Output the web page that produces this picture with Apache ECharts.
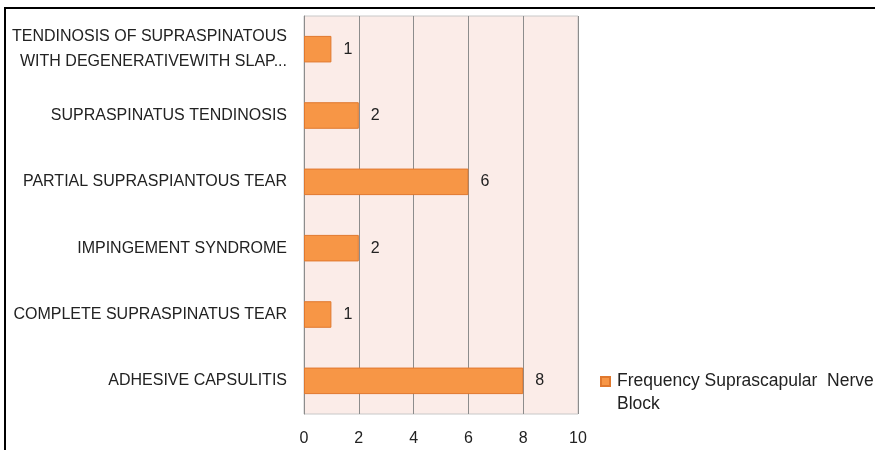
<!DOCTYPE html>
<html>
<head>
<meta charset="utf-8">
<script src="https://cdn.jsdelivr.net/npm/echarts@6/dist/echarts.min.js"></script>
<style>
  html, body { margin: 0; padding: 0; background: #fff; }
  #frame { position: absolute; left: 4px; top: 7px; width: 880px; height: 450px;
           border-top: 2px solid #000; border-left: 2px solid #000; box-sizing: border-box; }
  #chart { position: absolute; left: 0; top: 0; width: 875px; height: 450px; }
</style>
</head>
<body>
<div id="frame"></div>
<div id="chart"></div>
<script>
// bottom to top, as ECharts draws category axes
const categories = [
  'ADHESIVE CAPSULITIS',
  'COMPLETE SUPRASPINATUS TEAR',
  'IMPINGEMENT SYNDROME',
  'PARTIAL SUPRASPIANTOUS TEAR',
  'SUPRASPINATUS TENDINOSIS',
  'TENDINOSIS OF SUPRASPINATOUS\nWITH DEGENERATIVEWITH SLAP...'
]
const frequency = [8, 1, 2, 6, 2, 1]
const seriesName = 'Frequency Suprascapular  Nerve Block'

const font = 'Liberation Sans, Arial, sans-serif'
const chart = echarts.init(document.getElementById('chart'))

chart.setOption({
  animation: false,
  grid: {
    left: 304, right: 297, top: 16, bottom: 36,
    show: true, backgroundColor: '#fbece8', borderColor: '#c8c8c8', borderWidth: 1
  },
  legend: {
    left: 595, top: 364,
    // square sits beside the first line of the two-line legend text
    itemWidth: 11, itemHeight: 46,
    icon: 'path://M0,7L9,7L9,16L0,16Z M0,0L0,0 M11,46L11,46',
    textStyle: { fontFamily: font, fontSize: 17.5, color: '#222', lineHeight: 23 },
    formatter: () => 'Frequency Suprascapular  Nerve\nBlock'
  },
  xAxis: {
    type: 'value', min: 0, max: 10, interval: 2,
    axisLine: { show: false }, axisTick: { show: false },
    splitLine: { lineStyle: { color: '#8c8c8c', width: 1 } },
    axisLabel: { fontFamily: font, fontSize: 16, color: '#222', margin: 17 }
  },
  yAxis: {
    type: 'category', data: categories,
    axisLine: { show: true, lineStyle: { color: '#8c8c8c' } },
    axisTick: { show: false },
    axisLabel: { fontFamily: font, fontSize: 16, color: '#222', margin: 17, lineHeight: 25 }
  },
  series: [{
    name: seriesName, type: 'bar', data: frequency,
    barCategoryGap: '60%',
    itemStyle: { color: '#f79646', borderColor: '#e0782e', borderWidth: 1 },
    label: { show: true, position: 'right', distance: 12,
             fontFamily: font, fontSize: 16, color: '#222' }
  }]
})
</script>
</body>
</html>
